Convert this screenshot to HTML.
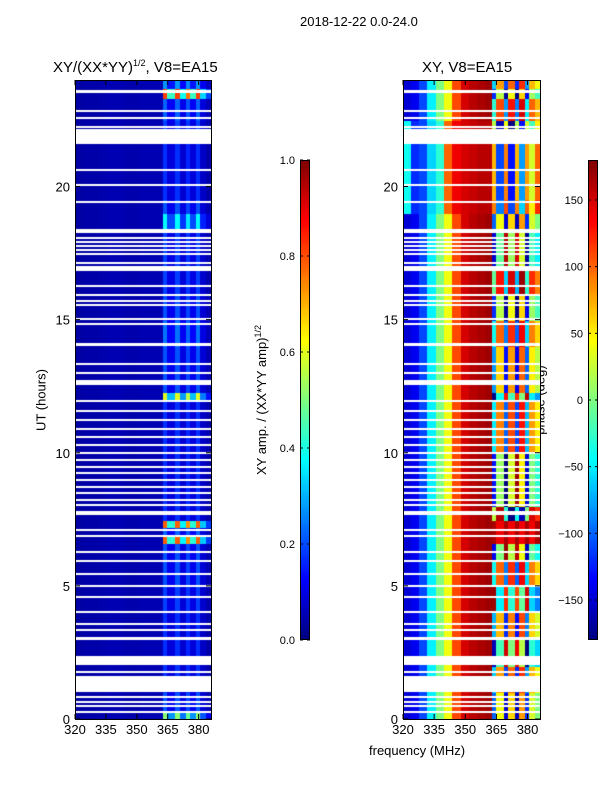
<!DOCTYPE html>
<html><head><meta charset="utf-8"><style>
body{margin:0;background:#fff;width:600px;height:800px;position:relative;overflow:hidden;font-family:"Liberation Sans",sans-serif;color:#000}
.t{position:absolute;white-space:nowrap}
canvas{position:absolute}
</style></head><body>
<div class="t" style="left:300px;top:14px;font-size:13px">2018-12-22 0.0-24.0</div>
<div class="t" style="left:53px;top:58px;font-size:15px">XY/(XX*YY)<sup style="font-size:9px">1/2</sup>, V8=EA15</div>
<div class="t" style="left:422px;top:59px;font-size:15px">XY, V8=EA15</div>
<div class="t" style="left:41px;top:400px;font-size:13px;transform:translate(-50%,-50%) rotate(-90deg)">UT (hours)</div>
<div class="t" style="left:261px;top:400px;font-size:13px;transform:translate(-50%,-50%) rotate(-90deg)">XY amp. / (XX*YY amp)<sup style="font-size:9px">1/2</sup></div>
<div class="t" style="left:540px;top:400px;font-size:13px;transform:translate(-50%,-50%) rotate(-90deg)">phase (deg)</div>
<div class="t" style="left:369px;top:743px;font-size:13px">frequency (MHz)</div>
<canvas id="c1" width="136" height="639" style="left:75px;top:80px"></canvas>
<canvas id="c2" width="137" height="639" style="left:403px;top:80px"></canvas>
<canvas id="cb1" width="10" height="480" style="left:300px;top:160px"></canvas>
<canvas id="cb2" width="10" height="480" style="left:588px;top:160px"></canvas>
<svg id="ov" width="600" height="800" style="position:absolute;left:0;top:0"></svg>
<script>
// ---- data ----
const freqEdges=[320,324,328,332,336,340,344,348,352,356,360,363,365,369,371,374,376,379,381,384,386];
const ampColumn=[0.035,0.04,0.04,0.045,0.05,0.05,0.045,0.045,0.05,0.05,0.05,0.17,0.09,0.17,0.08,0.16,0.09,0.17,0.07,0.04];
const phaseColumn=[-150,-140,-110,-50,0,40,110,150,160,165,170,-100,40,-150,60,-160,80,-120,30,0];
const phaseColumnUpper=[-40,-120,-110,-60,-30,100,140,150,155,160,160,60,-120,80,-140,60,-90,70,20,90];
const timeEdges=[0,0.3,1,2,3,4,5,6,6.6,6.9,7.2,7.5,8,10,12,12.3,14,15,16,17,18.4,19,19.5,21.6,22.5,23.3,23.7,24];
const ampRow=[3.0,1.2,1.0,1.0,1.0,1.1,1.2,1.2,4.6,1.3,4.6,1.0,1.0,1.0,3.5,1.2,1.4,1.2,1.1,1.1,2.2,1.2,1.0,1.1,1.3,4.8,1.6];
const phaseRow=[0,0,40,-60,30,-90,60,-40,10,180,10,120,-30,50,-80,20,60,-20,90,-50,0,30,10,-40,70,-20,40];
const upperBand=[0,0,0,0,0,0,0,0,0,0,0,0,0,0,0,0,0,0,0,0,0,1,1,1,0,0,0,0];
const redBand=[0,0,0,0,0,0,0,0,1,1,1,0,0,0,0,0,0,0,0,0,0,0,0,0,0,0,0];
const flagged=[[0.25,0.3],[0.45,0.5],[0.6,0.65],[0.8,0.85],[1.0,1.6],[1.75,1.8],[2.0,2.35],[2.95,3.05],[3.3,3.35],[3.55,3.6],[4.0,4.05],[4.55,4.6],[4.95,5.0],[5.4,5.45],[5.9,5.95],[6.25,6.3],[6.85,6.9],[7.05,7.1],[7.65,7.8],[8.0,8.05],[8.2,8.25],[8.45,8.5],[8.7,8.75],[8.95,9.0],[9.2,9.25],[9.45,9.5],[9.7,9.75],[9.95,10.0],[10.25,10.3],[10.55,10.6],[10.85,10.9],[11.2,11.25],[11.55,11.6],[11.9,11.95],[12.5,12.7],[12.95,13.0],[13.3,13.35],[14.0,14.12],[14.8,14.85],[15.0,15.05],[15.5,15.55],[15.65,15.7],[15.9,15.95],[16.25,16.3],[16.8,17.0],[17.1,17.15],[17.45,17.5],[17.6,17.65],[17.75,17.8],[17.9,17.95],[18.05,18.1],[18.25,18.4],[19.4,19.45],[20.0,20.06],[20.58,20.63],[21.6,22.15],[22.2,22.25],[22.55,22.6],[22.8,22.85],[23.5,23.6]];
const yTicks=[0,5,10,15,20];
const xTicks=[320,335,350,365,380];
const ampTicks=[0.0,0.2,0.4,0.6,0.8,1.0];
const phaseTicks=[150,100,50,0,-50,-100,-150];
// ---- helpers ----
function jet(v){v=Math.max(0,Math.min(1,v));const c=x=>Math.round(255*Math.max(0,Math.min(1,1.5-Math.abs(4*v-x))));return `rgb(${c(3)},${c(2)},${c(1)})`;}
const F0=320,F1=386,T0=0,T1=24;
function xs(f,w){return (f-F0)/(F1-F0)*w;}
function ys(t,h){return h-(t-T0)/(T1-T0)*h;}
function draw(id,w,h,valFn){
 const ctx=document.getElementById(id).getContext('2d');
 for(let r=0;r<timeEdges.length-1;r++){
  for(let c=0;c<freqEdges.length-1;c++){
   ctx.fillStyle=jet(valFn(r,c));
   const x0=xs(freqEdges[c],w),x1=xs(freqEdges[c+1],w),y0=ys(timeEdges[r+1],h),y1=ys(timeEdges[r],h);
   ctx.fillRect(Math.floor(x0),Math.floor(y0),Math.ceil(x1-x0)+1,Math.ceil(y1-y0)+1);
  }
 }
 ctx.fillStyle='#fff';
 flagged.forEach(([a,b])=>{const y0=ys(b,h),y1=ys(a,h);ctx.fillRect(0,Math.floor(y0),w,Math.max(2,Math.round(y1-y0)));});
}
draw('c1',136,639,(r,c)=>c>=11?Math.min(1,ampColumn[c]*ampRow[r]):ampColumn[c]);
draw('c2',137,639,(r,c)=>{let p=(upperBand[r]?phaseColumnUpper[c]:phaseColumn[c]);if(c>=11){p=redBand[r]?140+(c%2)*25:p+phaseRow[r];}p=((p+180)%360+360)%360-180;return (p+180)/360;});
['cb1','cb2'].forEach(id=>{const ctx=document.getElementById(id).getContext('2d');for(let i=0;i<480;i++){ctx.fillStyle=jet(1-i/479);ctx.fillRect(0,i,10,1);}});
// ---- axes ----
const svg=document.getElementById('ov');const NS='http://www.w3.org/2000/svg';
function el(tag,a){const e=document.createElementNS(NS,tag);for(const k in a)e.setAttribute(k,a[k]);svg.appendChild(e);return e;}
function axes(x,y,w,h,pre){
 const fr=el('rect',{x:x+0.5,y:y+0.5,width:w,height:h,fill:'none',stroke:'#000','stroke-width':1});
 
 
 yTicks.forEach(t=>{const yy=y+h-(t-T0)/(T1-T0)*h;
  el('line',{x1:x,y1:yy,x2:x+5,y2:yy,stroke:'#000'});el('line',{x1:x+w-5,y1:yy,x2:x+w,y2:yy,stroke:'#000'});
  const tx=el('text',{x:x-5,y:yy+5,'text-anchor':'end','font-size':13,'font-family':'Liberation Sans'});tx.textContent=t;
  
  });
 xTicks.forEach(t=>{const xx=x+(t-F0)/(F1-F0)*w;
  el('line',{x1:xx,y1:y+h,x2:xx,y2:y+h-5,stroke:'#000'});el('line',{x1:xx,y1:y,x2:xx,y2:y+5,stroke:'#000'});
  const tx=el('text',{x:xx,y:y+h+15,'text-anchor':'middle','font-size':13,'font-family':'Liberation Sans'});tx.textContent=t;
  
  });
}
axes(75,80,136,639,'amp');axes(403,80,137,639,'phase');
function cbar(x,vals,lo,hi,pre,fmt){
 el('rect',{x:x+0.5,y:160.5,width:9,height:479,fill:'none',stroke:'#000'});
 vals.forEach(v=>{const yy=160+(hi-v)/(hi-lo)*480;
  el('line',{x1:x,y1:yy,x2:x+3,y2:yy,stroke:'#000'});el('line',{x1:x+7,y1:yy,x2:x+10,y2:yy,stroke:'#000'});
  const tx=el('text',{x:x-5,y:yy+4,'text-anchor':'end','font-size':11,'font-family':'Liberation Sans'});tx.textContent=fmt(v);
  
  });
}
cbar(300,ampTicks,0,1,'amp',v=>v.toFixed(1));
cbar(588,phaseTicks,-180,180,'phase',v=>v<0?'\u2212'+(-v):''+v);
</script>
</body></html>
